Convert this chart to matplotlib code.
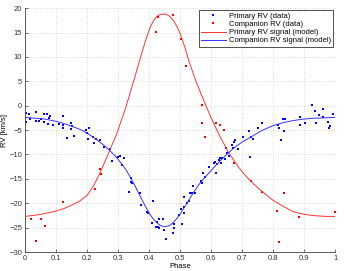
import matplotlib
matplotlib.use("Agg")
import matplotlib.pyplot as plt
import numpy as np

# primary star RV measurements (blue)
prim_phase = [0.003, 0.003, 0.014, 0.016, 0.034, 0.037, 0.044, 0.05, 0.06, 0.061,
              0.072, 0.075, 0.078, 0.08, 0.091, 0.11, 0.121, 0.122, 0.123, 0.135,
              0.147, 0.148, 0.152, 0.159, 0.195, 0.199, 0.206, 0.203, 0.218, 0.222,
              0.23, 0.242, 0.255, 0.274, 0.28, 0.3, 0.306, 0.311, 0.319, 0.336,
              0.341, 0.341, 0.344, 0.37, 0.373, 0.392, 0.395, 0.408, 0.411, 0.422,
              0.424, 0.43, 0.433, 0.433, 0.445, 0.448, 0.453, 0.477, 0.479, 0.479,
              0.495, 0.504, 0.506, 0.513, 0.514, 0.511, 0.522, 0.529, 0.532, 0.538,
              0.543, 0.549, 0.568, 0.57, 0.575, 0.579, 0.592, 0.608, 0.613, 0.616,
              0.618, 0.624, 0.629, 0.632, 0.634, 0.645, 0.647, 0.651, 0.656, 0.667,
              0.669, 0.672, 0.677, 0.688, 0.704, 0.723, 0.726, 0.728, 0.736, 0.75,
              0.765, 0.815, 0.819, 0.824, 0.833, 0.838, 0.835, 0.885, 0.887, 0.903,
              0.924, 0.933, 0.938, 0.946, 0.959, 0.96, 0.978, 0.98, 0.983, 0.992]
prim_rv = [-1.5, -3.4, -1.7, -2.7, -1.3, -3.2, -3.2, -2.8, -1.7, -3.3,
           -1.7, -3.8, -2.5, -2.2, -3.9, -3.7, -2.1, -3.9, -4.5, -6.6,
           -3.5, -4.7, -4.2, -6.2, -4.9, -5.7, -4.5, -6.9, -6.4, -7.7,
           -6.8, -7.0, -8.5, -8.8, -11.4, -10.5, -10.4, -12.1, -10.8, -17.6,
           -14.8, -15.6, -15.9, -17.9, -20.4, -21.7, -21.9, -24.0, -19.6, -24.8,
           -23.9, -24.8, -25.0, -23.2, -23.2, -25.5, -27.3, -26.2, -25.1, -24.3,
           -22.4, -21.2, -24.3, -22.0, -20.7, -18.7, -20.0, -19.5, -17.8, -17.8,
           -16.4, -18.0, -15.5, -15.8, -13.7, -14.6, -12.5, -11.8, -11.5, -13.7,
           -12.0, -11.2, -10.7, -11.8, -10.8, -11.0, -8.6, -9.8, -10.3, -8.1,
           -8.6, -7.5, -7.0, -8.8, -6.4, -5.1, -10.6, -6.4, -6.8, -4.5,
           -3.6, -4.0, -4.5, -7.0, -2.8, -2.8, -5.2, -2.3, -4.0, -3.5,
           0.1, -1.1, -3.5, -1.9, -0.7, -2.4, -3.3, -4.5, -4.2, -1.7]

# companion RV measurements (red)
comp_phase = [0.018, 0.035, 0.053, 0.063, 0.123, 0.225, 0.242, 0.244, 0.422, 0.43,
              0.476, 0.503, 0.518, 0.57, 0.572, 0.579, 0.617, 0.629, 0.642, 0.674,
              0.729, 0.765, 0.812, 0.817, 0.835, 0.883, 0.999]
comp_rv = [-23.2, -27.8, -23.2, -24.7, -19.7, -17.1, -12.9, -14.0, 15.1, 18.1,
           18.6, 13.7, 8.2, 0.1, -3.6, -6.4, -3.5, -4.0, -4.9, -11.7,
           -15.4, -17.6, -21.5, -28.0, -17.8, -22.9, -21.7]

# model curves
red_model_phase = [0.0, 0.05, 0.1, 0.125, 0.15, 0.175, 0.2, 0.222, 0.243, 0.26,
                   0.274, 0.295, 0.31, 0.322, 0.335, 0.349, 0.36, 0.37, 0.381, 0.392,
                   0.403, 0.413, 0.425, 0.435, 0.452, 0.465, 0.478, 0.49, 0.5, 0.515,
                   0.53, 0.55, 0.57, 0.585, 0.6, 0.625, 0.656, 0.688, 0.71, 0.731,
                   0.755, 0.774, 0.795, 0.817, 0.84, 0.86, 0.88, 0.903, 0.925, 0.946,
                   0.97, 1.0]
red_model_rv = [-22.7, -22.3, -21.6, -21.1, -20.4, -19.6, -18.4, -16.3, -13.6, -11.1,
                -9.0, -5.9, -3.1, -0.9, 1.8, 4.8, 7.2, 9.4, 11.8, 14.0,
                16.0, 17.3, 18.3, 18.7, 18.8, 18.4, 17.5, 16.2, 14.8, 12.0,
                8.8, 5.2, 2.0, -0.3, -2.5, -5.9, -9.6, -12.6, -14.3, -15.7,
                -17.1, -18.1, -19.2, -20.1, -20.9, -21.6, -22.0, -22.3, -22.5, -22.6,
                -22.7, -22.7]

blue_model_phase = [0.0, 0.06, 0.1, 0.123, 0.145, 0.175, 0.2, 0.225, 0.252, 0.275,
                    0.295, 0.31, 0.325, 0.338, 0.355, 0.37, 0.382, 0.392, 0.403, 0.413,
                    0.425, 0.435, 0.444, 0.451, 0.459, 0.467, 0.473, 0.483, 0.495, 0.508,
                    0.522, 0.54, 0.559, 0.578, 0.597, 0.615, 0.634, 0.65, 0.667, 0.683,
                    0.699, 0.715, 0.731, 0.76, 0.795, 0.83, 0.86, 0.89, 0.924, 0.96, 1.0]
blue_model_rv = [-2.4, -2.7, -3.2, -3.6, -4.1, -4.8, -5.6, -6.7, -8.0, -9.3,
                 -10.6, -11.8, -13.1, -14.5, -16.5, -18.4, -19.9, -21.1, -22.3, -23.2,
                 -24.0, -24.5, -24.7, -24.8, -24.7, -24.5, -24.2, -23.6, -22.7, -21.4,
                 -20.0, -18.1, -16.3, -14.8, -13.5, -12.2, -11.0, -10.0, -9.0, -8.2,
                 -7.5, -6.9, -6.3, -5.2, -4.2, -3.5, -3.1, -2.8, -2.6, -2.5, -2.4]

plt.rcParams["font.family"] = ["Liberation Sans", "DejaVu Sans"]
plt.rcParams["font.size"] = 5.5

fig = plt.figure(figsize=(3.44, 2.71), dpi=100)
ax = fig.add_axes([0.0727, 0.070, 0.902, 0.900])

ax.plot(prim_phase, prim_rv, linestyle="none", marker="s", markersize=1.5,
        color="blue", markeredgewidth=0, label="Primary RV (data)")
ax.plot(comp_phase, comp_rv, linestyle="none", marker="s", markersize=1.5,
        color="red", markeredgewidth=0, label="Companion RV (data)")
ax.plot(red_model_phase, red_model_rv, color="#ff3333", lw=0.7,
        label="Primary RV signal (model)")
ax.plot(blue_model_phase, blue_model_rv, color="#3333ff", lw=0.7,
        label="Companion RV signal (model)")

ax.set_xlim(0, 1)
ax.set_ylim(-30, 20)
ax.set_xticks(np.arange(0, 1.01, 0.1))
ax.set_xticklabels(["0", "0.1", "0.2", "0.3", "0.4", "0.5", "0.6", "0.7", "0.8", "0.9", "1"])
ax.set_yticks(np.arange(-30, 21, 5))
ax.tick_params(direction="in", length=2, width=0.5, pad=2, labelsize=5.5, colors="#333333")
ax.grid(True, linestyle=(0, (1, 2.5)), color="#bbbbbb", linewidth=0.5)

for s in ["top", "right"]:
    ax.spines[s].set_visible(False)
for s in ["left", "bottom"]:
    ax.spines[s].set_linewidth(0.6)
    ax.spines[s].set_color("#444444")

ax.set_xlabel("Phase", fontsize=5.5, labelpad=1)
ax.set_ylabel("RV [km/s]", fontsize=5.5, labelpad=1)

leg = ax.legend(loc="upper right", fontsize=5.5, frameon=True, fancybox=False,
                borderaxespad=0.3, handlelength=3.2, handletextpad=0.4,
                labelspacing=0.1, borderpad=0.3, markerscale=1.2)
leg.get_frame().set_edgecolor("black")
leg.get_frame().set_linewidth(0.6)

plt.savefig("out.png", dpi=100)
print("Saved: out.png")
